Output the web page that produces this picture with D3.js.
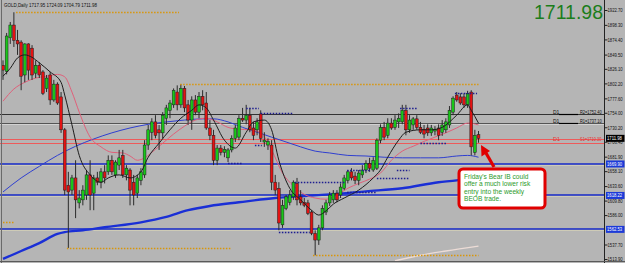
<!DOCTYPE html>
<html>
<head>
<meta charset="utf-8">
<script src="https://cdn.jsdelivr.net/npm/d3@7"></script>
<style>
  body { margin: 0; background: #b5b5b5; }
  svg { display: block; }
</style>
</head>
<body>
<svg id="chart" width="625" height="263"></svg>
<script>
const opens = [1832,1822,1877,1898,1873,1870,1816,1867,1860,1819,
  1832,1821,1794,1816,1775,1801,1780,1726,1635,1627,
  1647,1606,1611,1619,1652,1622,1647,1640,1657,1657,
  1676,1652,1668,1684,1652,1660,1640,1622,1643,1652,
  1701,1722,1739,1726,1721,1745,1758,1767,1788,1767,
  1794,1767,1742,1775,1755,1781,1770,1729,1717,1676,
  1696,1689,1680,1693,1712,1714,1745,1742,1750,1729,
  1726,1752,1706,1701,1701,1640,1630,1570,1597,1607,
  1616,1638,1616,1607,1606,1591,1556,1545,1565,1591,
  1606,1611,1622,1619,1630,1643,1657,1650,1643,1652,
  1660,1671,1660,1663,1709,1730,1717,1737,1730,1739,
  1739,1758,1726,1734,1744,1730,1727,1729,1721,1724,
  1729,1722,1726,1734,1755,1783,1780,1780,1767,1788,
  1689,1717.95]
const highs = [1840,1885,1903,1919,1890,1873,1868,1868,1865,1840,
  1837,1824,1816,1821,1808,1804,1788,1729,1657,1652,
  1676,1627,1635,1660,1676,1652,1657,1663,1668,1684,
  1684,1676,1693,1693,1668,1663,1652,1652,1663,1709,
  1734,1745,1750,1734,1755,1767,1775,1794,1799,1801,
  1798,1775,1781,1783,1788,1791,1788,1742,1726,1701,
  1701,1699,1696,1717,1734,1750,1762,1767,1762,1739,
  1745,1758,1722,1712,1709,1652,1640,1611,1619,1627,
  1643,1647,1627,1614,1611,1594,1561,1570,1602,1611,
  1624,1627,1627,1638,1652,1660,1663,1657,1660,1668,
  1676,1680,1681,1712,1735,1739,1745,1745,1750,1753,
  1767,1767,1750,1747,1750,1739,1734,1735,1734,1732,
  1735,1742,1745,1765,1781,1788,1786,1786,1790,1791,
  1726,1724.09]
const lows = [1808,1817,1867,1862,1849,1791,1804,1808,1808,1811,
  1811,1783,1788,1767,1772,1767,1721,1619,1532,1619,
  1581,1597,1602,1611,1594,1594,1635,1630,1638,1652,
  1652,1647,1660,1647,1643,1602,1602,1614,1635,1647,
  1693,1709,1712,1693,1712,1734,1745,1762,1758,1762,
  1755,1734,1726,1750,1745,1758,1726,1709,1668,1668,
  1684,1681,1673,1689,1706,1709,1739,1735,1722,1709,
  1717,1706,1698,1693,1627,1619,1561,1565,1594,1602,
  1611,1602,1602,1599,1586,1553,1520,1537,1561,1586,
  1601,1606,1607,1614,1627,1638,1643,1637,1635,1647,
  1655,1657,1657,1660,1704,1709,1712,1726,1726,1729,
  1735,1717,1721,1726,1726,1719,1712,1716,1716,1717,
  1709,1716,1721,1729,1750,1772,1767,1762,1762,1684,
  1684,1704.79]
const closes = [1824,1880,1898,1873,1867,1814,1867,1824,1816,1832,
  1816,1786,1811,1775,1801,1770,1726,1627,1624,1647,
  1611,1614,1627,1652,1619,1647,1640,1657,1647,1676,
  1657,1673,1680,1652,1663,1627,1619,1647,1657,1701,
  1726,1739,1717,1721,1750,1762,1770,1791,1767,1794,
  1762,1742,1775,1755,1781,1767,1729,1717,1676,1696,
  1689,1694,1693,1712,1729,1745,1742,1750,1726,1717,
  1739,1712,1709,1707,1640,1627,1573,1602,1616,1619,
  1640,1611,1606,1602,1589,1556,1545,1565,1597,1606,
  1619,1622,1611,1632,1647,1657,1647,1643,1655,1660,
  1671,1663,1676,1709,1730,1714,1737,1729,1742,1745,
  1758,1726,1742,1744,1730,1722,1719,1721,1729,1727,
  1717,1734,1739,1758,1778,1775,1770,1767,1786,1698,
  1717,1711.98]

// moving averages as [bar, price]
const fastMA = [[0,1814],[2,1827],[4,1844],[6,1849],[8,1845],[10,1836],[13,1821],[16,1804],[17,1783],[19,1734],
  [21,1684],[24,1652],[27,1640],[29,1647],[32,1652],[35,1647],[38,1657],[40,1681],[43,1704],[46,1726],
  [49,1745],[52,1758],[54,1767],[56,1762],[58,1742],[61,1709],[64,1696],[67,1722],[69,1739],[72,1742],
  [74,1726],[76,1676],[79,1630],[82,1611],[85,1594],[87,1586],[89,1593],[91,1604],[94,1614],[98,1627],
  [102,1647],[104,1660],[106,1681],[109,1709],[111,1722],[115,1726],[118,1726],[121,1730],[125,1750],[128,1767],
  [129,1758],[131,1737]]
const midMA = [[0,1773],[3,1793],[6,1804],[9,1811],[12,1814],[15,1817],[17,1813],[19,1788],[21,1755],[24,1714],
  [27,1698],[30,1689],[33,1688],[35,1683],[37,1676],[39,1680],[41,1689],[44,1704],[47,1719],[50,1732],
  [53,1742],[56,1745],[59,1739],[62,1730],[65,1727],[68,1726],[71,1721],[74,1693],[77,1655],[80,1634],
  [83,1620],[86,1614],[89,1612],[92,1619],[95,1630],[98,1638],[101,1645],[104,1655],[107,1676],[110,1691],
  [113,1699],[116,1707],[119,1714],[122,1721],[125,1729],[128,1737],[131,1734]]
const slowMA = [[0,1624],[5,1647],[10,1666],[15,1684],[20,1699],[25,1711],[30,1721],[35,1729],[40,1735],[45,1739],
  [50,1742],[55,1744],[58,1744],[62,1739],[66,1730],[70,1722],[74,1714],[78,1706],[82,1698],[86,1691],
  [90,1688],[95,1684],[100,1683],[105,1681],[110,1680],[115,1680],[120,1680],[125,1683],[128,1684],[131,1681]]
const longMA = [[0,1514],[5,1527],[10,1540],[15,1555],[17,1558],[22,1561],[28,1566],[38,1574],[45,1583],[51,1594],
  [57,1601],[65,1607],[75,1614],[82,1617],[90,1620],[100,1625],[110,1630],[120,1640],[125,1643],[131,1650]]
const yearMA = [[108,1511],[115,1520],[122,1527],[131,1535]]

const tickValues = [1922.7,1898.3,1874.4,1849.5,1826.1,1802.2,1777.6,1754.0,1730.2,1706.4,
  1681.9,1658.1,1633.6,1609.8,1586.0,1537.7,1513.9]

const blueLevels = [1669.90, 1618.22, 1562.53]
const pivotLevels = [1752.40, 1737.10]
const pivotNames = ['R2', 'R1']
const supportLevels = [1710.30, 1704.80]
const markerPrices = [1711.98, 1669.90, 1618.22, 1562.53]

// [price, from bar, to bar]
const orangeLevels = [[1919, 3.6, 48.5], [1801, 48.8, 131], [1532, 17.6, 63], [1521, 85.4, 131], [1575, 0, 3]]
const navyLevels = [[1762, 67, 70.5], [1753, 71, 80], [1701, 69.4, 71.3], [1671, 62, 66], [1660, 94.8, 101],
  [1660, 108.5, 112], [1647, 103, 112], [1640, 80.4, 94.2], [1624, 94.8, 103], [1558, 76, 84.5],
  [1762, 109.4, 114.3], [1786, 124.5, 130.6], [1704, 115, 122.3]]

const noteLines = ["Friday's Bear IB could", "offer a much lower risk", "entry into the weekly", "BEOB trade."]

const svg = d3.select('#chart')
const W = 625, H = 263, axisX = 604

const x = d3.scaleLinear().domain([0, 131]).range([3, 478.5])
const y = d3.scaleLinear().domain([1513.9, 1922.7]).range([259, 10])
const fmt = d3.format('.2f')

svg.append('rect').attr('width', W).attr('height', H).style('fill', '#b5b5b5')

const plot = svg.append('g')

// pivot lines
pivotLevels.forEach((p, k) => {
  plot.append('line')
    .attr('x1', 0).attr('x2', axisX)
    .attr('y1', Math.round(y(p)) + 0.5).attr('y2', Math.round(y(p)) + 0.5)
    .style('stroke', k === 0 ? '#333' : '#555')
  if (k === 1) {
    plot.append('line')
      .attr('x1', 0).attr('x2', axisX)
      .attr('y1', Math.round(y(p)) + 1.5).attr('y2', Math.round(y(p)) + 1.5)
      .style('stroke', '#d2d2d2')
  }
})

supportLevels.forEach(p => {
  plot.append('line')
    .attr('x1', 0).attr('x2', axisX)
    .attr('y1', Math.round(y(p)) + 0.5).attr('y2', Math.round(y(p)) + 0.5)
    .style('stroke', '#ee5a5a')
})

blueLevels.forEach(p => {
  plot.append('line')
    .attr('x1', 0).attr('x2', axisX)
    .attr('y1', Math.round(y(p)) + 1).attr('y2', Math.round(y(p)) + 1)
    .style('stroke', '#e8e2b8').style('stroke-width', 1)
  plot.append('line')
    .attr('x1', 0).attr('x2', axisX)
    .attr('y1', Math.round(y(p))).attr('y2', Math.round(y(p)))
    .style('stroke', '#1428c8').style('stroke-width', 1.6)
})

const maLine = d3.line()
  .x(d => x(d[0]))
  .y(d => y(d[1]))
  .curve(d3.curveMonotoneX)

const drawMA = (data, color, width) => {
  plot.append('path')
    .datum(data)
    .attr('d', maLine)
    .style('fill', 'none')
    .style('stroke', color)
    .style('stroke-width', width)
}

drawMA(yearMA, '#ecdcd6', 1.4)
drawMA(longMA, '#1a2fd6', 2.4)
drawMA(slowMA, '#2f3fd0', 1)
drawMA(midMA, '#e0607a', 1)

// candles
const bars = opens.map((o, i) => ({ i, o, h: highs[i], l: lows[i], c: closes[i] }))

plot.selectAll('.wick')
  .data(bars)
  .enter()
  .append('line')
  .attr('x1', d => x(d.i)).attr('x2', d => x(d.i))
  .attr('y1', d => y(d.h)).attr('y2', d => y(d.l))
  .style('stroke', '#2b2b2b')
  .style('stroke-width', 1)

plot.selectAll('.body')
  .data(bars)
  .enter()
  .append('rect')
  .attr('x', d => x(d.i) - 1.4)
  .attr('width', 2.8)
  .attr('y', d => y(Math.max(d.o, d.c)))
  .attr('height', d => Math.max(1, Math.abs(y(d.o) - y(d.c))))
  .style('fill', d => d.c >= d.o ? '#19c619' : '#e31212')
  .style('stroke', '#1e1e1e')
  .style('stroke-width', 0.5)

drawMA(fastMA, '#1c1c1c', 1)

// dotted levels
const dotted = (levels, color) => {
  plot.selectAll()
    .data(levels)
    .enter()
    .append('line')
    .attr('x1', d => x(d[1])).attr('x2', d => x(d[2]))
    .attr('y1', d => Math.round(y(d[0])) + 0.5).attr('y2', d => Math.round(y(d[0])) + 0.5)
    .style('stroke', color)
    .style('stroke-width', 1.3)
    .style('stroke-dasharray', '1.5,1.5')
}
dotted(orangeLevels, '#d9960a')
dotted(navyLevels, '#1e1e90')

// small squeezed labels
const labelFont = 'Liberation Sans, Arial, sans-serif'
const squeezed = (sel, x0, y0, str, size, color, sx) => sel.append('text')
  .attr('transform', 'translate(' + x0 + ',' + y0 + ') scale(' + sx + ',1)')
  .style('font-family', labelFont).style('font-size', size + 'px').style('fill', color)
  .text(str)

pivotLevels.forEach((p, k) => {
  const yy = Math.round(y(p))
  squeezed(svg, 553, yy - 0.5, 'D1', 5, '#111', 1)
  svg.append('line').attr('x1', 559).attr('x2', 578).attr('y1', yy + 0.5).attr('y2', yy + 0.5)
    .style('stroke', '#000').style('stroke-width', 1.2)
  squeezed(svg, 580, yy - 0.5, pivotNames[k] + '=' + fmt(p), 5.5, '#111', 0.72)
})
{
  const yy = Math.round(y(supportLevels[0]))
  squeezed(svg, 553, yy + 1.5, 'D1', 5.5, '#e53030', 1)
  squeezed(svg, 580, yy + 1.5, 'S1=' + fmt(supportLevels[0]), 6, '#e53030', 0.66)
}

// right axis
const yAxis = d3.axisRight(y)
  .tickValues(tickValues)
  .tickFormat(fmt)
  .tickSize(3)
  .tickSizeOuter(0)

const ax = svg.append('g')
  .attr('transform', 'translate(' + (axisX + 0.5) + ',0)')
  .call(yAxis)
ax.select('.domain').attr('d', 'M0,0V' + H).style('stroke', '#222')
ax.selectAll('line').style('stroke', '#222')
ax.selectAll('text')
  .attr('x', 0)
  .attr('transform', 'translate(3,0) scale(0.76,1)')
  .style('font-family', labelFont).style('font-size', '5.5px').style('fill', '#111')

markerPrices.forEach((p, k) => {
  const yy = y(p)
  svg.append('rect')
    .attr('x', axisX + 2).attr('y', yy - 3.5).attr('width', 18.5).attr('height', 7)
    .style('fill', k === 0 ? '#000' : '#1c3ad8')
  squeezed(svg, axisX + 3, yy + 2, fmt(p), 5.5, '#fff', 0.76)
})

// borders
svg.append('line').attr('x1', 1.5).attr('x2', 1.5).attr('y1', 0).attr('y2', H).style('stroke', '#6a6a6a')
svg.append('line').attr('x1', 0).attr('x2', W).attr('y1', 261.5).attr('y2', 261.5).style('stroke', '#5a5a5a')

// title and big price
svg.append('text')
  .attr('x', 4).attr('y', 6.5)
  .attr('textLength', 93).attr('lengthAdjust', 'spacingAndGlyphs')
  .style('font-family', labelFont).style('font-size', '5.5px').style('fill', '#111')
  .text('GOLD,Daily  ' + fmt(opens[131]) + ' ' + fmt(highs[131]) + ' ' + fmt(lows[131]) + ' ' + fmt(closes[131]))

svg.append('text')
  .attr('x', 603).attr('y', 18.5)
  .attr('text-anchor', 'end')
  .style('font-family', labelFont).style('font-size', '19.5px').style('fill', '#1b7d1b')
  .text(fmt(closes[131]))

// callout
const note = svg.append('g')
note.append('rect')
  .attr('x', 459).attr('y', 169).attr('width', 86).attr('height', 39).attr('rx', 4)
  .style('fill', '#fff').style('stroke', '#e00000').style('stroke-width', 3)
note.selectAll('text')
  .data(noteLines)
  .enter()
  .append('text')
  .attr('x', 464)
  .attr('y', (d, i) => 178.5 + i * 7.6)
  .style('font-family', labelFont).style('font-size', '6.6px').style('fill', '#2c9a2c')
  .text(d => d)

note.append('line')
  .attr('x1', 494).attr('y1', 167).attr('x2', 486).attr('y2', 153)
  .style('stroke', '#e00000').style('stroke-width', 3.2)
note.append('polygon')
  .attr('points', '481,145 490,151 481.5,156.5')
  .style('fill', '#e00000')
</script>
</body>
</html>
